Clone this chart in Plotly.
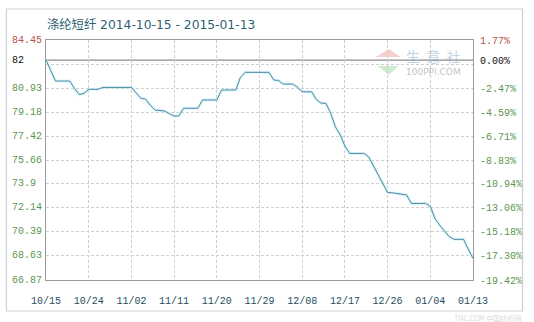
import plotly.graph_objects as go
import pandas as pd

# ---- data ----
start_date = "2014-10-15"
base_price = 82.0
prices = [
    82.00, 81.26, 80.48, 80.48, 80.48, 80.48, 79.95, 79.50, 79.58, 79.88,
    79.88, 79.88, 80.02, 80.02, 80.02, 80.02, 80.02, 80.02, 80.02, 79.62,
    79.23, 79.17, 78.72, 78.38, 78.35, 78.31, 78.11, 77.95, 77.95, 78.51,
    78.51, 78.51, 78.51, 79.11, 79.11, 79.11, 79.11, 79.83, 79.83, 79.83,
    79.83, 80.77, 81.11, 81.11, 81.11, 81.11, 81.11, 81.11, 80.56, 80.52,
    80.26, 80.26, 80.26, 80.03, 79.70, 79.70, 79.70, 79.13, 78.88, 78.87,
    78.15, 77.16, 76.59, 75.77, 75.24, 75.24, 75.24, 75.24, 74.99, 74.37,
    73.72, 73.06, 72.41, 72.39, 72.35, 72.28, 72.23, 71.62, 71.62, 71.62,
    71.62, 71.42, 70.52, 70.03, 69.58, 69.21, 69.02, 69.02, 69.02, 68.31,
    67.64,
]
dates = pd.date_range(start_date, periods=len(prices), freq="D")

x_tick_labels = ["10/15", "10/24", "11/02", "11/11", "11/20", "11/29",
                 "12/08", "12/17", "12/26", "01/04", "01/13"]
x_tick_dates = pd.date_range(start_date, periods=len(x_tick_labels), freq="9D")

# percent grid positions (right axis) and their labels
grid_pct = [1.77, -0.35, -2.47, -4.59, -6.71, -8.83, -10.94, -13.06, -15.18, -17.30, -19.42]
right_tick_vals = [1.77, 0.0, -2.47, -4.59, -6.71, -8.83, -10.94, -13.06, -15.18, -17.30, -19.42]
right_tick_text = ["1.77%", "0.00%", "-2.47%", "-4.59%", "-6.71%", "-8.83%",
                   "-10.94%", "-13.06%", "-15.18%", "-17.30%", "-19.42%"]
left_tick_vals = [1.77, 0.0, -2.47, -4.59, -6.71, -8.83, -10.94, -13.06, -15.18, -17.30, -19.42]
left_tick_text = ["84.45", "82", "80.93", "79.18", "77.42", "75.66",
                  "73.9", "72.14", "70.39", "68.63", "66.87"]

title_text = "涤纶短纤 2014-10-15 - 2015-01-13"

# ---- styling ----
RED = "#b5514f"
GREEN = "#5c9650"
BLACK = "#111111"
TEAL = "#1f4d5e"
LINE = "#4b8aa0"

W, H = 534, 322
L, R, T, B = 46, 57, 40, 42
PW, PH = W - L - R, H - T - B


def px(xp):
    return (xp - L) / PW


def py(yp):
    return 1 - (yp - T) / PH


pct = [(p / base_price - 1) * 100 for p in prices]
y_range = [min(grid_pct), max(grid_pct)]


def lab_color(v):
    if v > 0:
        return RED
    if v == 0:
        return BLACK
    return GREEN


fig = go.Figure()
# soft glow under the line
fig.add_trace(go.Scatter(x=dates, y=pct, mode="lines",
                         line=dict(color="rgba(190,235,245,0.5)", width=3),
                         hoverinfo="skip", showlegend=False))
fig.add_trace(go.Scatter(x=dates, y=pct, mode="lines",
                         line=dict(color=LINE, width=1),
                         showlegend=False))
# invisible trace to activate right axis
fig.add_trace(go.Scatter(x=[dates[0]], y=[pct[0]], yaxis="y2", mode="markers",
                         marker=dict(opacity=0), hoverinfo="skip", showlegend=False))

fig.update_layout(
    width=W, height=H,
    margin=dict(l=L, r=R, t=T, b=B),
    paper_bgcolor="white", plot_bgcolor="white",
    font=dict(family="DejaVu Sans, Noto Sans CJK SC", size=10),
    xaxis=dict(
        type="date",
        range=[x_tick_dates[0], x_tick_dates[-1]],
        tickvals=list(x_tick_dates), ticktext=x_tick_labels,
        showgrid=True, gridcolor="#cfcfcf", griddash="3px,2px", gridwidth=1,
        showline=True, linecolor="#9a9a9a", linewidth=1, mirror=True,
        ticks="outside", ticklen=0, ticklabelstandoff=11,
        tickfont=dict(family="Liberation Mono, DejaVu Sans Mono", size=10, color=TEAL),
        zeroline=False,
    ),
    yaxis=dict(
        range=y_range, tickvals=grid_pct, showticklabels=False,
        showgrid=True, gridcolor="#cfcfcf", griddash="3px,2px", gridwidth=1,
        showline=True, linecolor="#9a9a9a", linewidth=1, mirror=True,
        zeroline=False, ticks="",
    ),
    yaxis2=dict(
        overlaying="y", side="right", range=y_range,
        tickvals=right_tick_vals,
        ticktext=[f"<span style='color:{lab_color(v)}'>{t}</span>"
                  for v, t in zip(right_tick_vals, right_tick_text)],
        showgrid=False, zeroline=False, showline=False,
        ticks="outside", ticklen=0, ticklabelstandoff=4,
        tickfont=dict(family="Liberation Mono, DejaVu Sans Mono", size=10),
    ),
)

# left axis labels (left aligned, as in the reference)
for v, t in zip(left_tick_vals, left_tick_text):
    fig.add_annotation(x=px(11), xref="paper", y=v, yref="y",
                       text=t, showarrow=False, xanchor="left", yanchor="middle",
                       borderpad=0,
                       font=dict(family="Liberation Mono, DejaVu Sans Mono", size=10,
                                 color=lab_color(v)))

# title
fig.add_annotation(x=px(46), xref="paper", y=py(25), yref="paper",
                   text=title_text, showarrow=False, xanchor="left", yanchor="middle",
                   borderpad=0,
                   font=dict(family="DejaVu Sans, Noto Sans CJK SC", size=12.3, color="#2f5f72"))

# baseline at 0 %
fig.add_shape(type="line", xref="paper", x0=0, x1=1, yref="y", y0=0, y1=0,
              line=dict(color="#8c8c8c", width=1.2), layer="below")

# outer frame
fig.add_shape(type="rect", xref="paper", yref="paper",
              x0=px(6), x1=px(527), y0=py(311), y1=py(9),
              line=dict(color="#c9d2da", width=1.2))

# watermark logo (faint)
fig.add_shape(type="path", xref="paper", yref="paper",
              path=f"M {px(379)} {py(57)} L {px(392)} {py(49)} L {px(404)} {py(57)} Z",
              fillcolor="rgba(225,120,110,0.35)", line=dict(width=0), layer="below")
fig.add_shape(type="path", xref="paper", yref="paper",
              path=f"M {px(381)} {py(66)} L {px(392)} {py(75)} L {px(402)} {py(66)} Z",
              fillcolor="rgba(120,195,120,0.35)", line=dict(width=0), layer="below")
fig.add_annotation(x=px(437), xref="paper", y=py(56), yref="paper",
                   text="生  意  社", showarrow=False, borderpad=0,
                   xanchor="center", yanchor="middle",
                   font=dict(family="Noto Sans CJK SC", size=14, color="rgba(130,165,195,0.5)"))
fig.add_annotation(x=px(437), xref="paper", y=py(72), yref="paper",
                   text="100PPI.COM", showarrow=False, borderpad=0,
                   xanchor="center", yanchor="middle",
                   font=dict(family="DejaVu Sans", size=9, color="rgba(150,150,150,0.6)"))
# bottom-right watermark (faint)
fig.add_annotation(x=px(526), xref="paper", y=py(317.5), yref="paper",
                   text="TNC.COM 中国纺织网", showarrow=False, borderpad=0,
                   xanchor="right", yanchor="middle",
                   font=dict(family="Noto Sans CJK SC", size=7, color="rgba(190,190,190,0.6)"))

fig.write_html("out.html")
